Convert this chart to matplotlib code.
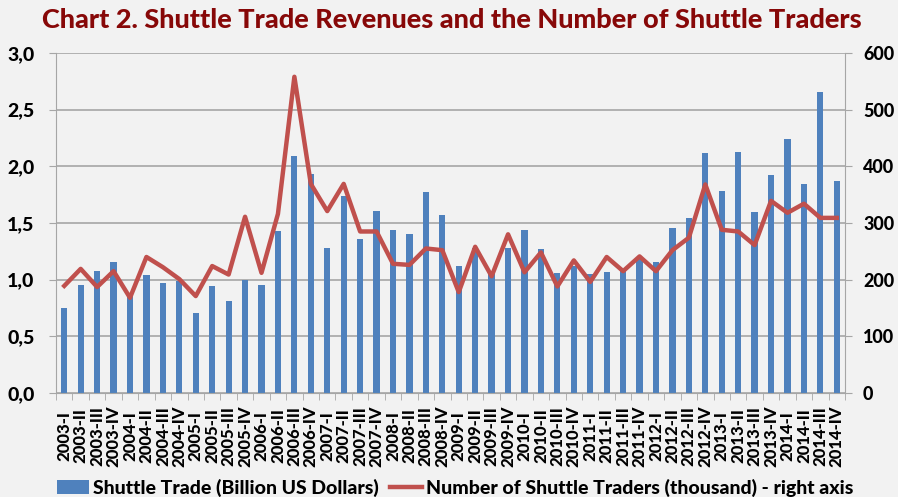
import matplotlib
matplotlib.use("Agg")
import matplotlib.pyplot as plt
import numpy as np
from matplotlib.ticker import FixedLocator, FuncFormatter

years = list(range(2003, 2015))
quarters = ["I", "II", "III", "IV"]
categories = [f"{y}-{q}" for y in years for q in quarters]

shuttle_trade = [0.75, 0.95, 1.08, 1.16, 0.88, 1.04, 0.97, 0.99,
                 0.71, 0.94, 0.81, 1.00, 0.95, 1.43, 2.09, 1.93,
                 1.28, 1.74, 1.36, 1.61, 1.44, 1.40, 1.77, 1.57,
                 1.12, 1.28, 1.05, 1.28, 1.44, 1.27, 1.06, 1.12,
                 1.05, 1.07, 1.08, 1.19, 1.16, 1.46, 1.54, 2.12,
                 1.78, 2.13, 1.60, 1.92, 2.24, 1.84, 2.66, 1.87]

traders = [189, 219, 187, 215, 168, 240, 222, 201,
           171, 224, 209, 311, 212, 316, 558, 369,
           321, 369, 285, 285, 228, 226, 255, 252,
           178, 258, 206, 280, 213, 248, 188, 234,
           196, 240, 215, 241, 215, 252, 274, 368,
           288, 285, 261, 339, 318, 334, 309, 309]

left_ticks = [0.0, 0.5, 1.0, 1.5, 2.0, 2.5, 3.0]
right_ticks = [0, 100, 200, 300, 400, 500, 600]

FONT = "Lato"
W = 900
BG = "#F2F2F2"
BAR = "#4F81BD"
LINE = "#C0504D"
GRID = "#A6A6A6"

fig = plt.figure(figsize=(8.98, 4.97), dpi=100, facecolor=BG)
ax = fig.add_axes([0.0624, 0.2093, 0.8786, 0.6841], facecolor=BG)
ax2 = ax.twinx()

x = np.arange(len(categories))
ax.bar(x, shuttle_trade, width=0.38, color=BAR, zorder=2,
       label="Shuttle Trade (Billion US Dollars)")
ax2.plot(x, traders, color=LINE, lw=3.2, zorder=3,
         label="Number of Shuttle Traders (thousand) - right axis")

ax.set_xlim(-0.5, len(categories) - 0.5)
ax.set_ylim(0, 3.0)
ax2.set_ylim(0, 600)
ax.yaxis.set_major_locator(FixedLocator(left_ticks))
ax2.yaxis.set_major_locator(FixedLocator(right_ticks))
ax.yaxis.set_major_formatter(FuncFormatter(lambda v, p: f"{v:.1f}".replace(".", ",")))
ax2.yaxis.set_major_formatter(FuncFormatter(lambda v, p: f"{int(v)}"))

ax.set_axisbelow(True)
ax.grid(axis="y", color=GRID, lw=1.2, zorder=0)

ax.set_xticks(x)
ax.set_xticklabels(categories, rotation=90, fontsize=12, fontweight=W,
                   family=FONT, va="center")
ax.xaxis.set_minor_locator(FixedLocator(np.arange(-0.5, len(categories), 1)))
ax.tick_params(axis="x", which="major", length=0, pad=31)
ax.tick_params(axis="x", which="minor", length=5, color=GRID, direction="out")
ax.tick_params(axis="y", length=5, color=GRID, labelsize=14, pad=10.5)
ax2.tick_params(axis="y", length=5, color=GRID, labelsize=13, pad=8)
for lab in ax.get_yticklabels() + ax2.get_yticklabels():
    lab.set_fontweight(W)
    lab.set_family(FONT)

for a in (ax, ax2):
    for s in a.spines.values():
        s.set_visible(False)
ax.spines["left"].set_visible(True)
ax.spines["left"].set_color(GRID)
ax.spines["bottom"].set_visible(True)
ax.spines["bottom"].set_color(GRID)
ax2.spines["right"].set_visible(True)
ax2.spines["right"].set_color(GRID)

fig.text(0.503, 0.960, "Chart 2. Shuttle Trade Revenues and the Number of Shuttle Traders",
         ha="center", va="center", fontsize=19.5, fontweight=W,
         color="#870808", family=FONT)

h1, l1 = ax.get_legend_handles_labels()
h2, l2 = ax2.get_legend_handles_labels()
leg = fig.legend(h1 + h2, l1 + l2, loc="center", bbox_to_anchor=(0.507, 0.018),
                 ncol=2, frameon=False, prop={"family": FONT, "weight": W, "size": 14},
                 handlelength=1.65, handletextpad=0.2, columnspacing=0.6)

fig.savefig("out.png", dpi=100, facecolor=BG)
